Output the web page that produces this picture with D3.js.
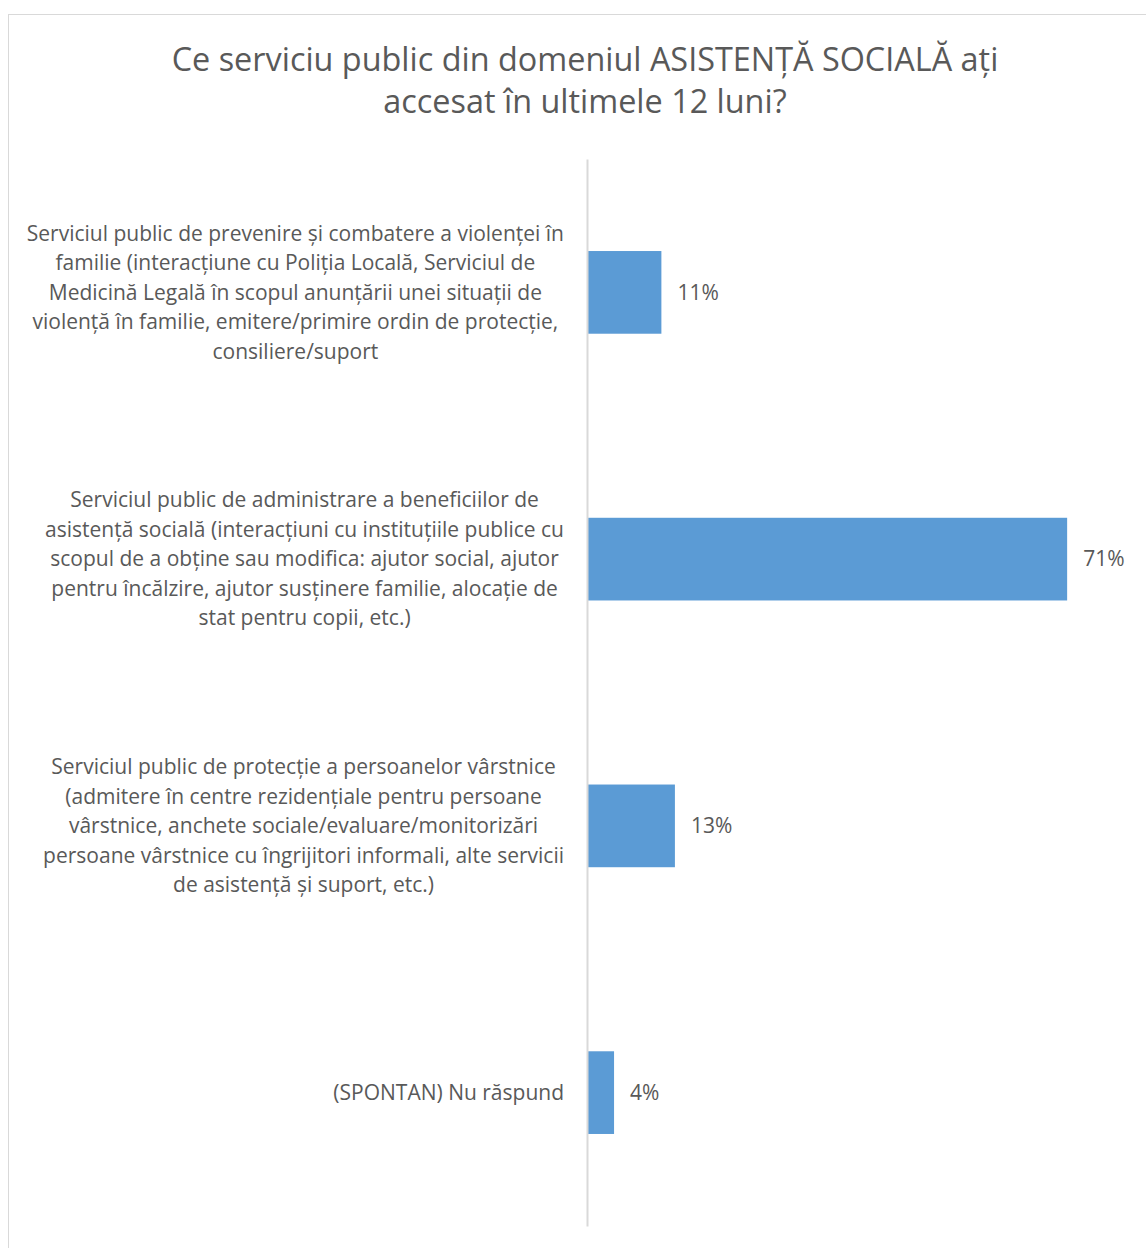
<!DOCTYPE html>
<html>
<head>
<meta charset="utf-8">
<script src="https://cdn.jsdelivr.net/npm/d3@7"></script>
<style>
  html, body { margin: 0; padding: 0; background: #fff; }
  svg { display: block; }
  text { font-family: "Open Sans", Lato, sans-serif; fill: #595959; }
</style>
</head>
<body>
<svg id="chart" width="1146" height="1248"></svg>
<script>
// Survey question shown as the chart title (two lines)
const titleLines = [
  "Ce serviciu public din domeniul ASISTENȚĂ SOCIALĂ ați",
  "accesat în ultimele 12 luni?"
];

// Category labels, already broken into lines
const categories = [
  ["Serviciul public de prevenire și combatere a violenței în",
   "familie (interacțiune cu Poliția Locală, Serviciul de",
   "Medicină Legală în scopul anunțării unei situații de",
   "violență în familie, emitere/primire ordin de protecție,",
   "consiliere/suport"],
  ["Serviciul public de administrare a beneficiilor de",
   "asistență socială (interacțiuni cu instituțiile publice cu",
   "scopul de a obține sau modifica: ajutor social, ajutor",
   "pentru încălzire, ajutor susținere familie, alocație de",
   "stat pentru copii, etc.)"],
  ["Serviciul public de protecție a persoanelor vârstnice",
   "(admitere în centre rezidențiale pentru persoane",
   "vârstnice, anchete sociale/evaluare/monitorizări",
   "persoane vârstnice cu îngrijitori informali, alte servicii",
   "de asistență și suport, etc.)"],
  ["(SPONTAN) Nu răspund"]
];

// Share of respondents (%)
const values = [11, 71, 13, 4];

const svg = d3.select("#chart");

// Chart area frame
svg.append("rect")
  .attr("x", 8.5).attr("y", 14.5)
  .attr("width", 1200).attr("height", 1300)
  .attr("fill", "none").attr("stroke", "#d9d9d9").attr("stroke-width", 1);

// Title
const title = svg.append("text")
  .attr("text-anchor", "middle")
  .style("font-size", "32.4px");
titleLines.forEach((t, i) => {
  title.append("tspan").attr("x", 585).attr("y", 71 + i * 42).text(t);
});

const ids = categories.map((_, i) => i);

const x = d3.scaleLinear().domain([0, 80]).range([587, 1128]);
const y = d3.scaleBand().domain(ids).range([159, 1226])
  .paddingInner(0.69).paddingOuter(0.345);

// Bars
svg.append("g").selectAll("rect")
  .data(values)
  .join("rect")
  .attr("x", x(0))
  .attr("y", (d, i) => y(i))
  .attr("width", d => x(d) - x(0))
  .attr("height", y.bandwidth())
  .attr("fill", "#5b9bd5");

// Value labels
svg.append("g").selectAll("text")
  .data(values)
  .join("text")
  .attr("x", d => x(d) + 16)
  .attr("y", (d, i) => y(i) + y.bandwidth() / 2)
  .attr("dy", "0.35em")
  .style("font-size", "21px")
  .text(d => d + "%");

// Category axis (line only, labels drawn as wrapped blocks)
const yAxis = d3.axisLeft(y).tickSize(0).tickFormat("");
const axisG = svg.append("g").attr("transform", `translate(${x(0)},0)`).call(yAxis);
axisG.select(".domain").attr("stroke", "#d9d9d9").attr("stroke-width", 2);

// Wrapped category labels: block right-aligned to the axis, lines centred within it
const lineH = 29.5;
const labelRight = 564;
const labelG = svg.append("g");
categories.forEach((lines, i) => {
  const t = labelG.append("text")
    .attr("text-anchor", "middle")
    .style("font-size", "21px");
  const cy = y(i) + y.bandwidth() / 2;
  const spans = lines.map((l, j) =>
    t.append("tspan")
      .attr("y", cy + (j - (lines.length - 1) / 2) * lineH)
      .attr("dy", "0.35em")
      .text(l));
  const maxW = d3.max(spans, s => s.node().getComputedTextLength());
  spans.forEach(s => s.attr("x", labelRight - maxW / 2));
});
</script>
</body>
</html>
